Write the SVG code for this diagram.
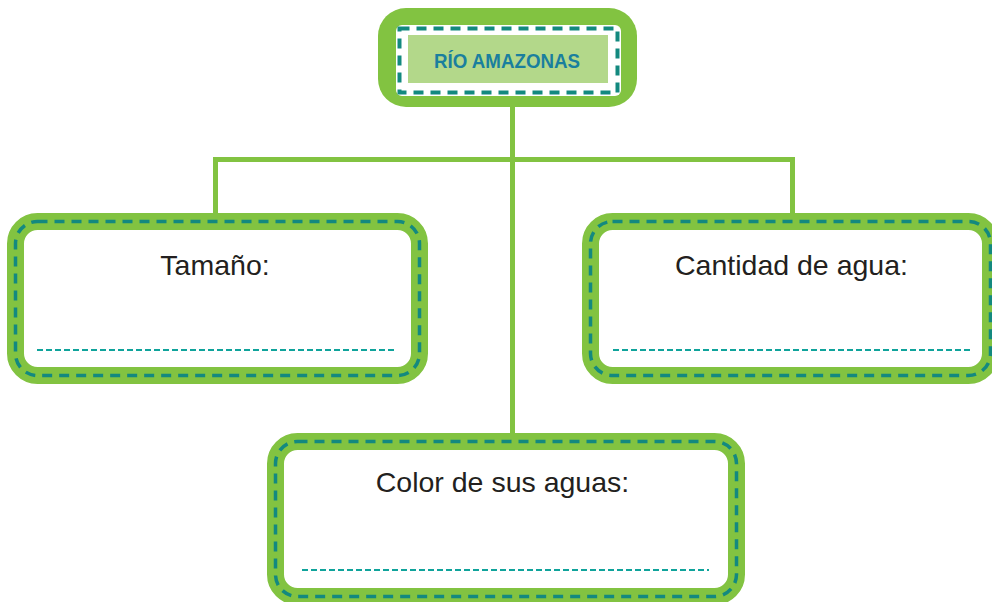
<svg xmlns="http://www.w3.org/2000/svg" width="992" height="602" viewBox="0 0 992 602">
<style>
.band{fill:#ffffff;stroke:#82c341;stroke-width:17}
.dash{fill:none;stroke:#13897f;stroke-width:3.5;stroke-dasharray:10 7}
.line{fill:none;stroke:#0fa39b;stroke-width:2;stroke-dasharray:6 3}
.conn{fill:none;stroke:#82c341;stroke-width:5}
.lbl{font-family:"Liberation Sans",Arial,sans-serif;font-size:28.5px;fill:#231f20;text-anchor:middle}
</style>
<g id="connectors">
<line class="conn" x1="512.5" y1="100" x2="512.5" y2="436"/>
<polyline class="conn" points="215.5,216 215.5,159.5 792.5,159.5 792.5,216"/>
</g>
<g id="top">
<rect x="378" y="8" width="259" height="99" rx="28" fill="#82c341"/>
<rect x="396" y="25" width="225" height="71" rx="6" fill="#ffffff"/>
<rect x="399.5" y="28.5" width="218" height="64" fill="none" stroke="#13897f" stroke-width="4" stroke-dasharray="10 7"/>
<rect x="408" y="35" width="200" height="48" fill="#b3d88a"/>
<text x="507" y="67.5" font-family="Liberation Sans,Arial,sans-serif" font-weight="bold" font-size="21" fill="#1a7f9e" text-anchor="middle" textLength="146" lengthAdjust="spacingAndGlyphs">RÍO AMAZONAS</text>
</g>
<g id="tamano">
<rect class="band" x="15.5" y="221.5" width="404" height="154" rx="22"/>
<rect class="dash" x="15.5" y="221.5" width="404" height="154" rx="22"/>
<text class="lbl" x="215" y="275">Tamaño:</text>
<line class="line" x1="37" y1="350" x2="397" y2="350"/>
</g>
<g id="cantidad">
<rect class="band" x="590.5" y="221.5" width="400" height="154" rx="22"/>
<rect class="dash" x="590.5" y="221.5" width="400" height="154" rx="22"/>
<text class="lbl" x="791.5" y="275">Cantidad de agua:</text>
<line class="line" x1="613" y1="350" x2="972" y2="350"/>
</g>
<g id="color">
<rect class="band" x="275.5" y="441.5" width="461" height="155" rx="22"/>
<rect class="dash" x="275.5" y="441.5" width="461" height="155" rx="22"/>
<text class="lbl" x="502.5" y="492">Color de sus aguas:</text>
<line class="line" x1="302" y1="570" x2="709" y2="570"/>
</g>
</svg>
